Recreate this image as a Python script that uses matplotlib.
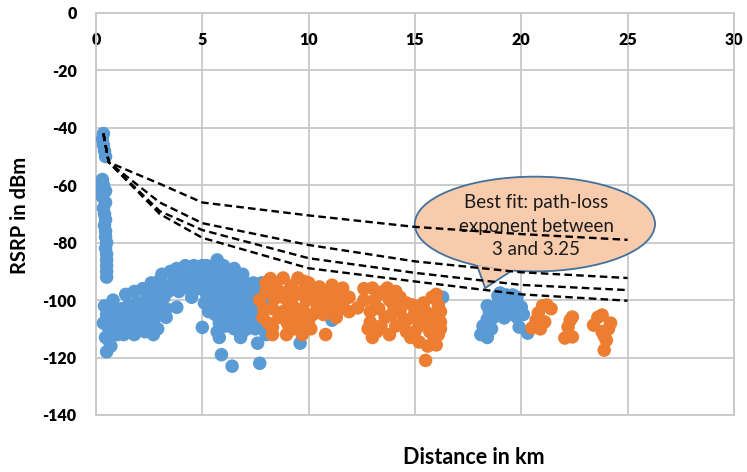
import numpy as np
import matplotlib
matplotlib.use('Agg')
import matplotlib.pyplot as plt
from matplotlib.patches import Ellipse, Polygon

plt.rcParams['font.family'] = ['Lato', 'DejaVu Sans']
plt.rcParams['axes.unicode_minus'] = False

# measured RSRP (km, dBm), blue set
blue_pts = [
    (0.35, -42), (0.3, -44), (0.35, -46), (0.4, -48), (0.45, -50),
    (0.3, -58), (0.35, -60), (0.1, -61), (0.45, -62), (0.3, -64), (0.45, -66),
    (0.35, -68), (0.4, -70), (0.45, -72), (0.4, -74), (0.45, -76), (0.45, -78),
    (0.5, -80), (0.45, -82), (0.5, -84), (0.5, -86), (0.5, -88), (0.5, -90), (0.5, -92),
    (0.35, -108), (0.5, -105), (0.6, -110), (0.45, -113), (0.6, -114), (0.5, -118),
    (0.8, -100), (0.8, -104), (0.9, -108), (1.0, -112), (1.1, -106), (1.2, -110), (0.7, -116),
    (0.4, -102), (0.7, -107), (0.9, -103), (1.2, -103), (1.3, -107), (1.3, -112),
    (1.4, -98), (1.5, -102), (1.5, -106), (1.6, -110), (1.8, -97), (1.9, -101),
    (1.7, -104), (1.8, -108), (1.8, -112), (2.1, -102), (2.2, -106),
    (2.0, -105), (2.0, -109), (2.2, -96), (2.3, -100), (2.4, -104), (2.4, -108),
    (2.3, -111), (2.6, -94), (2.7, -98), (2.8, -102), (2.8, -106), (2.9, -110),
    (2.5, -97), (2.6, -101), (2.6, -109), (2.7, -112),
    (3.0, -93), (3.0, -97), (3.0, -101), (3.0, -105),
    (3.1, -91), (3.2, -95), (3.2, -99), (3.3, -103), (3.3, -106), (3.5, -90),
    (3.6, -94), (3.8, -89), (3.8, -93), (3.9, -97), (3.8, -102.5), (3.4, -97),
    (4.0, -91), (4.1, -95),
    (4.2, -88), (4.3, -92), (4.4, -96), (4.5, -99), (4.6, -88), (4.7, -92), (4.8, -96),
    (4.6, -94), (4.9, -90), (5.2, -88), (5.2, -98), (5.1, -101),
    (5.0, -88), (5.0, -92), (5.0, -96), (5.3, -90), (5.3, -94), (5.4, -98),
    (5.5, -102), (5.6, -105), (5.7, -86), (5.0, -109.5), (5.7, -111), (5.8, -113),
    (5.5, -92), (5.5, -96), (5.6, -100), (5.6, -89), (5.3, -104),
    (5.9, -119), (5.8, -90), (5.9, -94), (5.9, -98), (6.0, -102), (6.0, -106),
    (6.0, -88), (6.1, -92), (6.1, -96), (6.2, -100), (6.2, -104), (5.8, -108), (6.1, -109),
    (6.2, -90), (6.3, -94), (6.3, -98), (6.4, -102), (6.4, -106), (6.5, -110),
    (6.5, -89), (6.5, -97), (6.6, -104), (6.6, -108),
    (6.4, -123), (6.6, -92), (6.7, -96), (6.7, -100), (6.8, -104), (6.8, -108),
    (6.8, -113), (7.0, -94), (7.1, -98), (7.1, -102), (7.1, -106), (7.1, -110),
    (6.9, -91), (6.9, -99), (7.0, -103), (6.9, -111),
    (7.4, -94), (7.5, -98), (7.5, -102), (7.5, -106), (7.5, -110), (7.6, -115),
    (7.3, -96), (7.3, -100), (7.3, -104), (7.3, -108), (7.7, -96), (7.7, -104),
    (7.7, -122), (7.8, -94), (7.9, -100), (7.9, -108), (8.0, -112), (7.9, -97),
    (9.6, -115), (11.1, -107), (9.1, -110), (11.1, -98), (16.3, -99),
    (18.1, -112), (18.4, -113), (18.4, -102), (18.4, -106.6), (18.7, -106),
    (18.9, -101), (19.3, -98.2), (19.6, -98.2), (20.0, -102.4), (19.2, -106.2),
    (19.9, -109.4), (20.3, -111.5), (18.2, -109), (19.6, -103), (19.0, -104),
    (18.5, -104), (18.9, -98.5), (19.2, -102), (19.5, -100), (19.8, -99),
    (19.8, -106), (18.6, -110), (19.4, -105), (20.1, -105), (19.0, -97.5),
]

# measured RSRP (km, dBm), orange set
orange_pts = [
    (7.7, -100), (7.85, -106), (8.0, -94), (8.0, -97), (8.3, -103), (8.3, -109.5),
    (8.5, -96), (8.8, -92.3), (8.8, -99), (8.8, -104), (8.96, -112), (9.2, -95),
    (9.2, -101), (9.3, -106), (9.5, -92.3), (9.7, -97), (9.7, -103), (9.7, -107.7),
    (9.7, -112), (10.0, -94), (10.2, -99), (10.2, -105), (10.5, -95.4), (10.6, -101),
    (10.8, -112), (10.9, -104), (11.1, -94.8), (11.1, -99), (11.3, -106),
    (11.6, -95.8), (11.6, -101), (8.1, -108), (9.0, -108), (7.9, -103),
    (8.2, -92.5), (8.4, -99.5), (8.6, -106), (9.0, -97), (9.0, -103), (9.4, -98),
    (9.5, -104), (9.9, -100), (10.0, -107), (10.3, -96), (10.4, -102), (10.7, -98),
    (10.7, -105), (11.0, -102), (11.4, -98), (11.5, -103), (8.3, -112), (9.3, -110),
    (10.1, -110), (8.4, -94), (9.8, -93.5), (11.9, -104),
    (11.9, -99), (12.3, -102.7), (12.6, -100), (13.0, -95.8), (12.9, -104),
    (12.9, -107.7), (13.0, -113), (13.3, -98), (13.3, -103), (13.4, -109),
    (13.7, -95.8), (13.8, -112), (13.8, -100), (13.9, -105), (14.3, -99),
    (14.3, -104), (14.4, -108), (14.6, -111), (14.9, -101.7), (14.9, -106),
    (15.2, -114.6), (15.2, -109), (15.5, -121), (15.5, -104), (15.7, -111),
    (15.8, -99), (16.0, -115.6), (16.1, -101.7), (16.2, -107.6), (16.2, -104),
    (16.1, -112), (15.9, -113),
    (12.6, -96), (13.1, -100), (13.5, -97), (13.6, -106), (14.0, -102), (14.1, -97),
    (14.1, -109), (14.6, -101), (14.6, -107), (15.0, -104), (15.0, -111), (15.4, -101),
    (15.4, -107), (15.8, -105), (15.9, -108), (16.2, -110), (15.6, -116), (13.2, -111),
    (12.8, -110), (14.8, -113), (16.0, -98),
    (20.5, -109.7), (20.8, -104.5), (21.2, -101.7), (21.1, -107.6), (21.4, -103), (20.7, -107),
    (20.9, -110), (21.0, -102),
    (22.4, -105.9), (22.2, -109.4), (22.05, -113.2), (22.4, -112.8), (22.3, -107),
    (23.8, -105.2), (24.2, -108), (23.4, -108.7), (24.0, -114), (23.9, -117.4),
    (23.6, -106), (23.8, -111), (24.1, -110), (23.9, -112.5),
]

# path-loss fit lines (dashed)
fit_d = [0.35, 0.6, 3, 5, 10, 15, 20, 25]
fit_1 = [-42, -52, -59.5, -66, -70.5, -74.5, -77, -79]
fit_2 = [-42, -52, -66, -73.2, -80.8, -86.5, -90.3, -92.3]
fit_3 = [-42, -52, -69, -75.6, -85.4, -90.5, -94.7, -96.5]
fit_4 = [-42, -52, -70, -78.3, -88.9, -93.5, -98.0, -100.2]

x_ticks = [0, 5, 10, 15, 20, 25, 30]
y_ticks = [0, -20, -40, -60, -80, -100, -120, -140]

fig = plt.figure(figsize=(7.47, 4.72), dpi=100)
ax = fig.add_axes([0.1285, 0.1208, 0.854, 0.8517])

bx, by = zip(*blue_pts)
ox, oy = zip(*orange_pts)
ax.scatter(bx, by, s=95, color='#5B9BD5', edgecolors='none', zorder=3)
ax.scatter(ox, oy, s=95, color='#ED7D31', edgecolors='none', zorder=3)

# callout bubble
ell = Ellipse((20.64, -73.5), 11.3, 33, facecolor='#F8CBAD', edgecolor='#41719C',
              lw=1.3, zorder=4)
ax.add_patch(ell)
tail = Polygon([(17.9, -87.5), (18.3, -95.8), (19.6, -89.5)], closed=True,
               facecolor='#F8CBAD', edgecolor='#41719C', lw=1.3, zorder=4)
ax.add_patch(tail)
ax.plot([17.95, 19.55], [-87.2, -89.2], color='#F8CBAD', lw=2.5, zorder=4.5)
ax.text(20.7, -74.2, 'Best fit: path-loss\nexponent between\n3 and 3.25',
        ha='center', va='center', fontsize=13.5, color='#1a1a1a',
        linespacing=1.45, zorder=5)

for fy in [fit_1, fit_2, fit_3, fit_4]:
    ax.plot(fit_d, fy, color='black', lw=1.7, dashes=(3.2, 1.8), zorder=6)

ax.set_xlim(0, 30)
ax.set_ylim(-140, 0)
ax.set_xticks(x_ticks, labels=[str(v) for v in x_ticks])
ax.set_yticks(y_ticks, labels=[str(v) for v in y_ticks])
ax.grid(True, color='#C8C8C8', lw=1.3, zorder=0)
ax.set_axisbelow(True)
for sp in ax.spines.values():
    sp.set_color('#C8C8C8')
    sp.set_linewidth(1.3)

ax.xaxis.set_ticks_position('top')
ax.tick_params(axis='x', length=0, pad=-25, labelsize=11.5)
ax.tick_params(axis='y', length=0, pad=14, labelsize=11.5)
for lab in ax.get_xticklabels() + ax.get_yticklabels():
    lab.set_fontweight('heavy')

fig.text(20 / 747, 1 - 215 / 472, 'RSRP in dBm', rotation=90, ha='center',
         va='center', fontsize=14.5, fontweight='bold')
fig.text(474 / 747, 1 - 458 / 472, 'Distance in km', ha='center', va='center',
         fontsize=15.5, fontweight='bold')

fig.savefig('out.png', dpi=100)
